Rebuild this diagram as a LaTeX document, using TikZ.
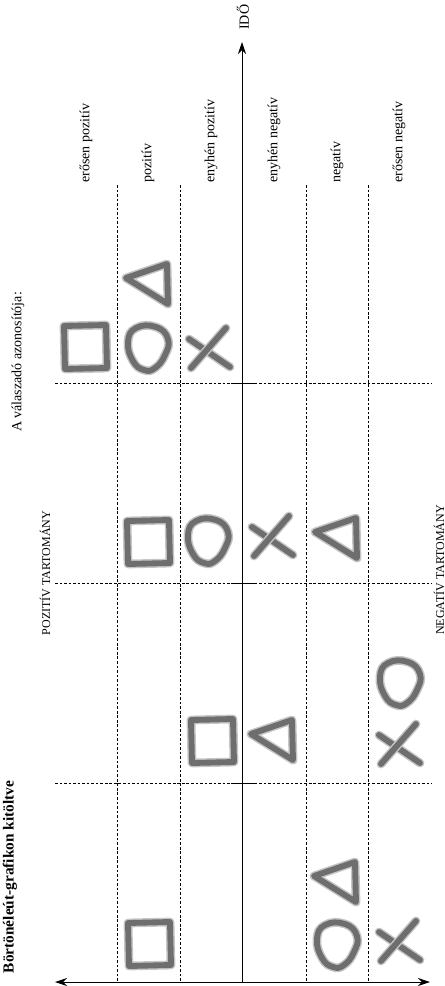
\documentclass[tikz,border=0pt]{standalone}
\usepackage{fontspec}
\setmainfont{Liberation Serif}
\usepackage{tikz}
\usetikzlibrary{arrows.meta, positioning, calc}

\tikzset{
  jel/.style={draw=jelszin, line width=4.4pt, line join=round, line cap=round,
    preaction={draw=jelszin!40, line width=6.6pt, line join=round, line cap=round}},
  szaggatott/.style={line width=0.45pt, dash pattern=on 2pt off 1.4pt},
  oszlopcimke/.style={rotate=90, anchor=west, inner sep=0pt, font=\fontsize{10.5}{12}\selectfont},
  kocka/.pic={\draw[jel] (-21,-21) -- (21,-22) -- (22,21) -- (-20,22) -- cycle;},
  kor/.pic={\draw[jel] plot[smooth cycle, tension=0.8] coordinates {(-20,-6) (-12,-20) (8,-21) (20,-9) (17,7) (7,20) (-4,22) (-15,13)};},
  harom/.pic={\draw[jel] (-21,-6) -- (20,-20) -- (21,20) -- cycle;},
  iks/.pic={\draw[jel] (-20,-9) -- (21,19); \draw[jel] (-18,20) -- (17,-20);}
}

\begin{document}
\begin{tikzpicture}[x=0.75pt, y=-0.75pt]
% --- HATAR, SZINEK ---
\definecolor{jelszin}{HTML}{6E6E6E}
\useasboundingbox (0,0) rectangle (445,986);

% LAYER 1: Racs (szaggatott vonalak)
\foreach \x [count=\i] in {117,180,306,368} {
  \coordinate (vf\i) at (\x,185);
  \coordinate (va\i) at (\x,982);
  \draw[szaggatott] (vf\i) -- (va\i);
}
\foreach \y [count=\i] in {383,583,783} {
  \coordinate (hb\i) at (55,\y);
  \coordinate (hj\i) at (432,\y);
  \draw[szaggatott] (hb\i) -- (hj\i);
  \coordinate (tb\i) at (231,\y);
  \coordinate (tj\i) at (254,\y);
  \draw[line width=0.7pt] (tb\i) -- (tj\i); % jelolo a tengelyen
}

% LAYER 2: Tengelyek
\coordinate (ido0) at (242,982);
\coordinate (ido1) at (242,42);
\draw[line width=0.7pt, -{Stealth[length=9pt, width=6pt]}] (ido0) -- (ido1);
\node[rotate=90, anchor=west, inner sep=0pt, font=\fontsize{10.5}{12}\selectfont] (ido) at (243,30) {IDŐ};

\coordinate (bal) at (55,982);
\coordinate (jobb) at (430,982);
\draw[line width=0.7pt, {Stealth[length=9pt, width=6pt]}-{Stealth[length=9pt, width=6pt]}] (bal) -- (jobb);

% LAYER 3: Oszlopcimkek
\node[oszlopcimke] (c1) at (86,183) {erősen pozitív};
\node[oszlopcimke] (c2) at (148,183) {pozitív};
\node[oszlopcimke] (c3) at (211,183) {enyhén pozitív};
\node[oszlopcimke] (c4) at (274,183) {enyhén negatív};
\node[oszlopcimke] (c5) at (337,183) {negatív};
\node[oszlopcimke] (c6) at (399,183) {erősen negatív};

% LAYER 4: Feliratok
\node[rotate=90, font=\fontsize{11.5}{13}\selectfont\bfseries] (cim) at (10,877) {Börtönéleút-grafikon kitöltve};
\node[rotate=90, font=\fontsize{10.5}{12}\selectfont] (azon) at (18,362) {A válaszadó azonosítója:};
\node[rotate=90, font=\fontsize{9}{11}\selectfont] (poz) at (45,573) {POZITÍV TARTOMÁNY};
\node[rotate=90, font=\fontsize{9}{11}\selectfont] (neg) at (439,570) {NEGATÍV TARTOMÁNY};

% LAYER 5: Jelek (negyzet, kor, haromszog, x)
\pic at (85,347) {kocka};
\pic at (148,348) {kor};
\pic at (147,284) {harom};
\pic at (209,348) {iks};

\pic at (148,542) {kocka};
\pic at (208,541) {kor};
\pic at (272,536) {iks};
\pic at (336,538) {harom};

\pic at (212,741) {kocka};
\pic at (272,740) {harom};
\pic at (400,683) {kor};
\pic at (399,744) {iks};

\pic at (149,944) {kocka};
\pic at (335,882) {harom};
\pic at (337,945) {kor};
\pic at (399,941) {iks};
\end{tikzpicture}
\end{document}
